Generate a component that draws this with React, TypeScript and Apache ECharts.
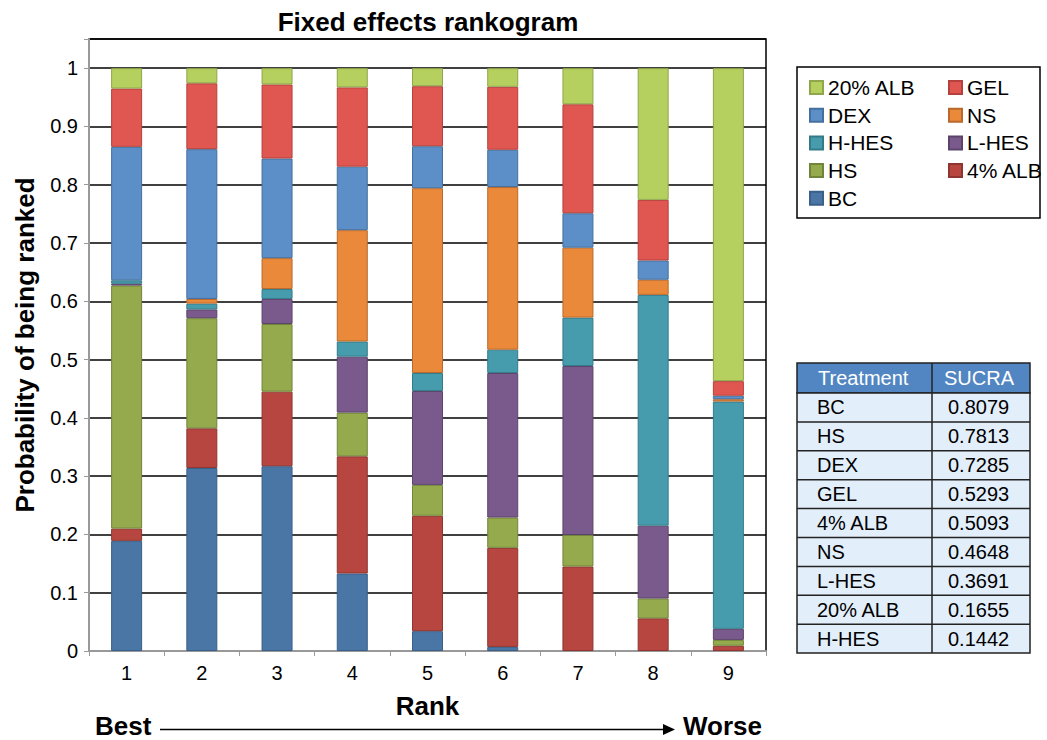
import React, { useEffect, useRef } from "react";
import * as echarts from "echarts";

const ranks = ["1", "2", "3", "4", "5", "6", "7", "8", "9"];

// stacked bottom-up
const BC = [0.189, 0.314, 0.317, 0.133, 0.034, 0.007, 0, 0, 0];
const ALB4 = [0.021, 0.068, 0.128, 0.201, 0.198, 0.17, 0.145, 0.056, 0.009];
const HS = [0.417, 0.189, 0.116, 0.075, 0.053, 0.052, 0.054, 0.034, 0.01];
const LHES = [0.003, 0.015, 0.043, 0.096, 0.161, 0.248, 0.29, 0.125, 0.019];
const HHES = [0.006, 0.01, 0.017, 0.026, 0.031, 0.04, 0.083, 0.396, 0.39];
const NS = [0, 0.008, 0.053, 0.191, 0.317, 0.279, 0.12, 0.026, 0.004];
const DEX = [0.229, 0.257, 0.171, 0.109, 0.072, 0.064, 0.059, 0.033, 0.006];
const GEL = [0.1, 0.113, 0.127, 0.136, 0.103, 0.108, 0.187, 0.104, 0.025];
const ALB20 = [0.035, 0.026, 0.028, 0.033, 0.031, 0.032, 0.062, 0.226, 0.537];

const seriesNames = ["BC", "4% ALB", "HS", "L-HES", "H-HES", "NS", "DEX", "GEL", "20% ALB"];
const seriesValues = [BC, ALB4, HS, LHES, HHES, NS, DEX, GEL, ALB20];
const seriesFill = ["#4A76A6", "#B84640", "#94AA4C", "#7A5A8C", "#469CAD", "#EB893A", "#5C8FC7", "#E05651", "#B5D05F"];
const seriesBorder = ["#3A5F88", "#8E3530", "#71853A", "#5B436A", "#347B8A", "#B9692B", "#44709F", "#B5403C", "#8FA64A"];

const legendCol1 = ["20% ALB", "DEX", "H-HES", "HS", "BC"];
const legendCol2 = ["GEL", "NS", "L-HES", "4% ALB"];

const tableHeader = ["Treatment", "SUCRA"];
const treatments = ["BC", "HS", "DEX", "GEL", "4% ALB", "NS", "L-HES", "20% ALB", "H-HES"];
const sucra = ["0.8079", "0.7813", "0.7285", "0.5293", "0.5093", "0.4648", "0.3691", "0.1655", "0.1442"];

const FONT = "'Liberation Sans', Arial, Helvetica, sans-serif";

export default function App() {
  const ref = useRef<HTMLDivElement>(null);
  useEffect(() => {
    if (!ref.current) return;
    const chart = echarts.init(ref.current, undefined, { renderer: "svg" });

    const series = seriesNames.map((name, i) => ({
      name,
      type: "bar",
      stack: "total",
      barWidth: 31,
      data: seriesValues[i].map((v) => (v === 0 ? "-" : v)),
      itemStyle: { color: seriesFill[i], borderColor: seriesBorder[i], borderWidth: 1 },
      emphasis: { disabled: true },
    }));

    // table graphics
    const tX = 797, tMid = 932, tR = 1030, tTop = 363, hdrH = 30, rowH = 28.9;
    const tableEls: any[] = [];
    tableEls.push({
      type: "rect",
      shape: { x: tX, y: tTop, width: tR - tX, height: hdrH },
      style: { fill: "#5286C2", stroke: "#222", lineWidth: 1.5 },
    });
    tableEls.push({
      type: "rect",
      shape: { x: tX, y: tTop + hdrH, width: tR - tX, height: rowH * treatments.length },
      style: { fill: "#E3EEFB", stroke: "#222", lineWidth: 1.5 },
    });
    for (let i = 1; i < treatments.length; i++) {
      const y = tTop + hdrH + rowH * i;
      tableEls.push({ type: "line", shape: { x1: tX, y1: y, x2: tR, y2: y }, style: { stroke: "#222", lineWidth: 1.5 } });
    }
    tableEls.push({
      type: "line",
      shape: { x1: tMid, y1: tTop, x2: tMid, y2: tTop + hdrH + rowH * treatments.length },
      style: { stroke: "#222", lineWidth: 1.5 },
    });
    tableEls.push({
      type: "text", x: 818, y: tTop + hdrH / 2,
      style: { text: tableHeader[0], fill: "#fff", fontSize: 20, fontFamily: FONT, verticalAlign: "middle", align: "left" },
    });
    tableEls.push({
      type: "text", x: 944, y: tTop + hdrH / 2,
      style: { text: tableHeader[1], fill: "#fff", fontSize: 20, fontFamily: FONT, verticalAlign: "middle", align: "left" },
    });
    treatments.forEach((t, i) => {
      const cy = tTop + hdrH + rowH * i + rowH / 2;
      tableEls.push({
        type: "text", x: 817, y: cy,
        style: { text: t, fill: "#000", fontSize: 20, fontFamily: FONT, verticalAlign: "middle", align: "left" },
      });
      tableEls.push({
        type: "text", x: 948, y: cy,
        style: { text: sucra[i], fill: "#000", fontSize: 20, fontFamily: FONT, verticalAlign: "middle", align: "left" },
      });
    });

    const legendCommon = {
      orient: "vertical",
      top: 77,
      padding: 0,
      itemWidth: 13,
      itemHeight: 13,
      itemGap: 6.7,
      icon: "rect",
      selectedMode: false,
      textStyle: { fontSize: 21, fontFamily: FONT, color: "#000", lineHeight: 21 },
    };

    chart.setOption({
      animation: false,
      textStyle: { fontFamily: FONT },
      title: {
        text: "Fixed effects rankogram",
        left: 428,
        top: 9,
        padding: 0,
        textAlign: "center",
        textStyle: { fontSize: 26, fontWeight: "bold", fontFamily: FONT, color: "#000" },
      },
      legend: [
        { ...legendCommon, left: 809, data: legendCol1 },
        { ...legendCommon, left: 948, data: legendCol2 },
      ],
      grid: {
        left: 89,
        right: 281,
        top: 39,
        bottom: 89,
        show: true,
        borderColor: "#000",
        borderWidth: 1.5,
        containLabel: false,
      },
      xAxis: {
        type: "category",
        data: ranks,
        name: "Rank",
        nameLocation: "middle",
        nameGap: 42,
        nameTextStyle: { fontSize: 26, fontWeight: "bold", color: "#000", fontFamily: FONT },
        axisLine: { lineStyle: { color: "#999", width: 2 } },
        axisTick: { show: true, length: 5, lineStyle: { color: "#999" } },
        axisLabel: { fontSize: 20, color: "#000", margin: 12, fontFamily: FONT },
      },
      yAxis: {
        type: "value",
        min: 0,
        max: 1.05,
        interval: 0.1,
        name: "Probability of being ranked",
        nameLocation: "middle",
        nameGap: 51,
        nameTextStyle: { fontSize: 26, fontWeight: "bold", color: "#000", fontFamily: FONT },
        axisLine: { show: true, lineStyle: { color: "#999", width: 2 } },
        axisTick: { show: true, length: 5, lineStyle: { color: "#999" } },
        axisLabel: {
          fontSize: 20,
          color: "#000",
          margin: 11,
          fontFamily: FONT,
          formatter: (v: number) => (v > 1.001 ? "" : String(+v.toFixed(1))),
        },
        splitLine: { show: true, lineStyle: { color: "#000", width: 1.5 } },
      },
      series,
      graphic: [
        {
          type: "rect",
          shape: { x: 797, y: 67, width: 243, height: 151 },
          style: { fill: "none", stroke: "#000", lineWidth: 1.5 },
        },
        {
          type: "text", x: 95, y: 739,
          style: { text: "Best", fill: "#000", fontSize: 26, fontWeight: "bold", fontFamily: FONT, verticalAlign: "bottom", align: "left" },
        },
        {
          type: "text", x: 683, y: 739,
          style: { text: "Worse", fill: "#000", fontSize: 26, fontWeight: "bold", fontFamily: FONT, verticalAlign: "bottom", align: "left" },
        },
        {
          type: "line",
          shape: { x1: 160, y1: 729.5, x2: 664, y2: 729.5 },
          style: { stroke: "#000", lineWidth: 1.5 },
        },
        {
          type: "polygon",
          shape: { points: [[663, 724], [675, 729.5], [663, 735]] },
          style: { fill: "#000" },
        },
        ...tableEls,
      ],
    });
    return () => chart.dispose();
  }, []);
  return (
    <div
      ref={ref}
      style={{ position: "absolute", left: 0, top: 0, width: 1047, height: 740, background: "#fff" }}
    />
  );
}
